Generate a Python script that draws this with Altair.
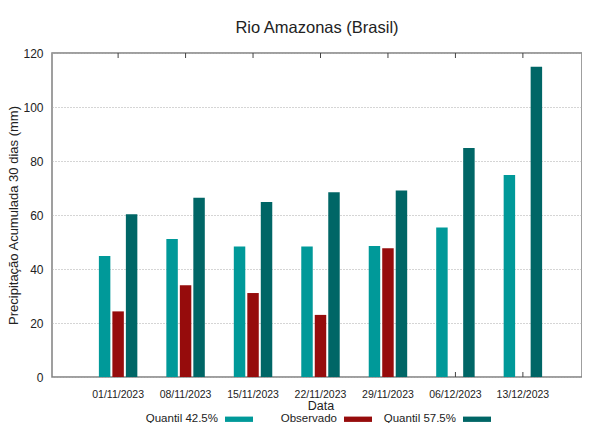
import altair as alt
import pandas as pd

dates = ["01/11/2023", "08/11/2023", "15/11/2023", "22/11/2023",
         "29/11/2023", "06/12/2023", "13/12/2023"]
series = ["Quantil 42.5%", "Observado", "Quantil 57.5%"]
colors = ["#009999", "#960c0c", "#006666"]

q425 = [44.8, 51.1, 48.3, 48.3, 48.5, 55.4, 74.8]
observado = [24.3, 34.0, 31.1, 23.0, 47.7, None, None]
q575 = [60.3, 66.4, 64.8, 68.4, 69.1, 84.8, 114.9]

rows = []
for i, d in enumerate(dates):
    for s, vals in zip(series, [q425, observado, q575]):
        if vals[i] is not None:
            rows.append({"Data": d, "serie": s, "valor": vals[i]})
df = pd.DataFrame(rows)
tick_df = pd.DataFrame({"Data": dates})

FONT = "Liberation Sans, Arial, sans-serif"
W, H = 530, 324

xscale = alt.Scale(domain=dates, paddingInner=0.4, paddingOuter=0.68,
                   range=[0, 537])

top_ticks = alt.Chart(tick_df).mark_rule(color="#444444", strokeWidth=1).encode(
    x=alt.X("Data:N", sort=dates, scale=xscale, title="Data"),
    y=alt.value(0), y2=alt.value(5))
bot_ticks = alt.Chart(tick_df).mark_rule(color="#444444", strokeWidth=1).encode(
    x=alt.X("Data:N", sort=dates, scale=xscale, title="Data"),
    y=alt.value(H - 5), y2=alt.value(H))

bars = alt.Chart(df).mark_bar(strokeWidth=0).encode(
    x=alt.X("Data:N", sort=dates, scale=xscale, title="Data",
            axis=alt.Axis(labelAngle=0, labelAlign="center", ticks=False,
                          domain=False, labelFontSize=10.5, labelPadding=17,
                          titleFontSize=12.5, titlePadding=0,
                          titleFontWeight="normal")),
    xOffset=alt.XOffset("serie:N", sort=series,
                        scale=alt.Scale(domain=series, paddingInner=0.15,
                                        paddingOuter=0.075)),
    y=alt.Y("valor:Q", scale=alt.Scale(domain=[0, 120], nice=False),
            axis=alt.Axis(values=[0, 20, 40, 60, 80, 100, 120], grid=True,
                          gridDash=[1, 2], gridColor="#aaaaaa", gridWidth=1,
                          domain=False, ticks=False, labelFontSize=12,
                          labelPadding=9,
                          title="Precipitação Acumulada 30 dias (mm)",
                          titleFontSize=13, titlePadding=2,
                          titleFontWeight="normal")),
    color=alt.Color("serie:N", sort=series,
                    scale=alt.Scale(domain=series, range=colors),
                    legend=alt.Legend(
                        title=None, orient="none", direction="horizontal",
                        columns=3, gridAlign="all", columnPadding=11,
                        legendX=173, legendY=H + 28,
                        symbolType="M-1,-0.19H1V0.19H-1Z", symbolSize=784,
                        symbolStrokeWidth=0, labelAlign="right",
                        labelOffset=alt.ExprRef("-35"), labelFontSize=11.5,
                        labelLimit=300, labelColor="#222222")),
)

chart = alt.layer(top_ticks, bot_ticks, bars).properties(
    width=W, height=H,
    title=alt.TitleParams("Rio Amazonas (Brasil)", fontSize=16.5,
                          fontWeight="normal", offset=11, anchor="middle",
                          color="#222222"),
    autosize=alt.AutoSizeParams(type="none"),
    padding={"left": 44, "top": 45, "right": 0, "bottom": 46},
).configure(font=FONT).configure_view(
    stroke="#808080", strokeWidth=1.5
).configure_axis(labelColor="#222222", titleColor="#222222", labelFont=FONT,
                 titleFont=FONT).configure_legend(labelFont=FONT).configure_title(font=FONT)

chart.save("out.html", embed_options={"renderer": "svg", "actions": False})
